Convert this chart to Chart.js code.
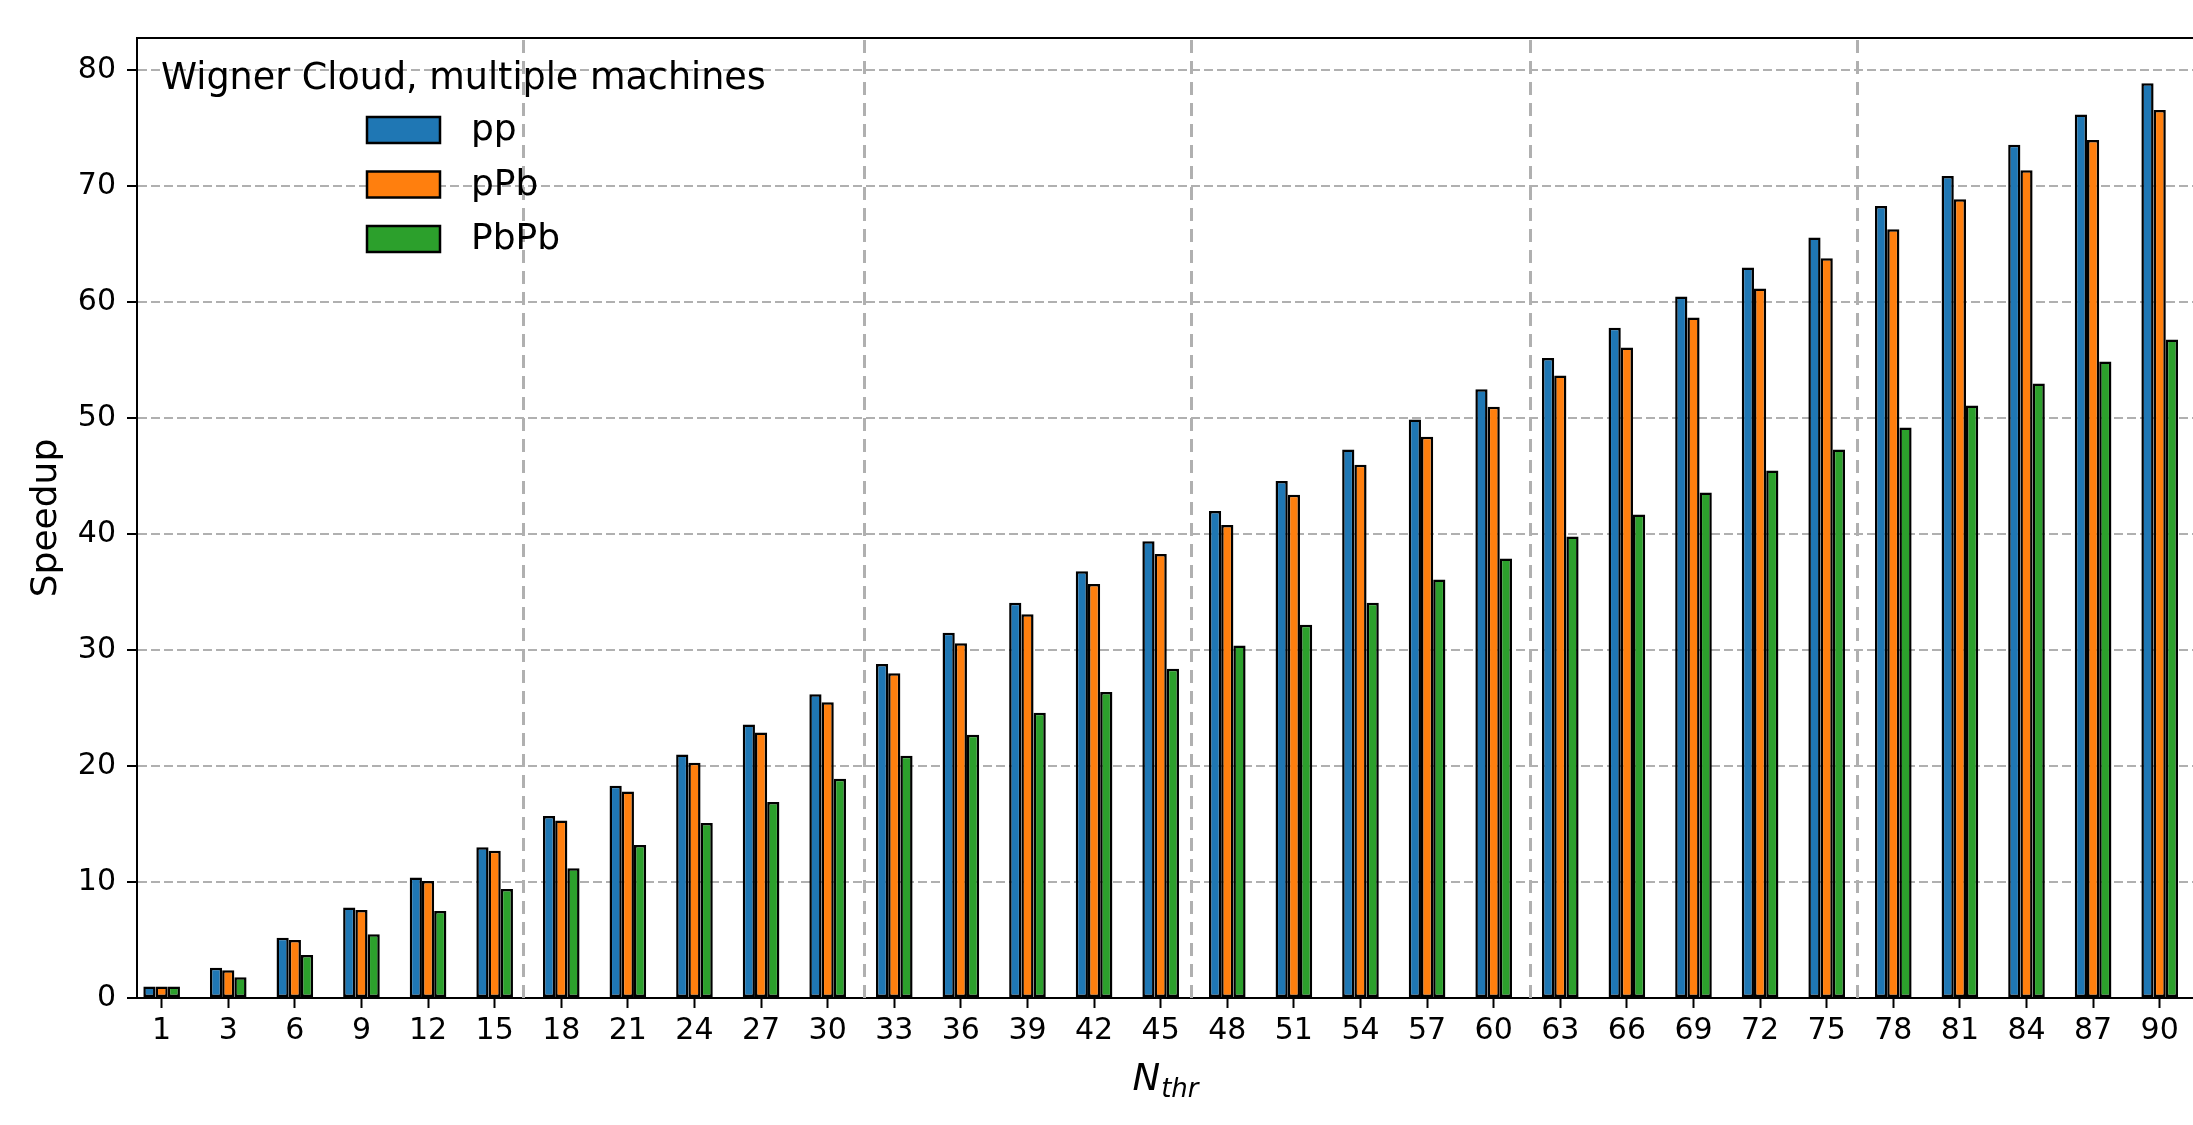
<!DOCTYPE html>
<html>
<head>
<meta charset="utf-8">
<title>Speedup, Wigner Cloud</title>
<script src="https://cdn.jsdelivr.net/npm/chart.js@4"></script>
<style>
  html, body { margin: 0; padding: 0; background: #fff; overflow: hidden; }
  #graph { display: block; }
</style>
</head>
<body>
<canvas id="graph" width="2193" height="1125"></canvas>
<script>
// thread counts on the x axis
const threads = [1, 3, 6, 9, 12, 15, 18, 21, 24, 27, 30, 33, 36, 39, 42, 45,
  48, 51, 54, 57, 60, 63, 66, 69, 72, 75, 78, 81, 84, 87, 90];

// measured speedup per collision system
const ppSpeedup = [1.0, 2.6, 5.2, 7.8, 10.4, 13.0, 15.7, 18.3, 21.0, 23.6, 26.2,
  28.8, 31.5, 34.1, 36.8, 39.4, 42.0, 44.6, 47.3, 49.9, 52.5, 55.2, 57.8, 60.5,
  63.0, 65.6, 68.3, 70.9, 73.6, 76.2, 78.9];
const pPbSpeedup = [1.0, 2.4, 5.0, 7.6, 10.1, 12.7, 15.3, 17.8, 20.3, 22.9, 25.5,
  28.0, 30.6, 33.1, 35.7, 38.3, 40.8, 43.4, 46.0, 48.4, 51.0, 53.7, 56.1, 58.7,
  61.2, 63.8, 66.3, 68.9, 71.4, 74.0, 76.6];
const PbPbSpeedup = [1.0, 1.8, 3.7, 5.5, 7.5, 9.4, 11.2, 13.2, 15.1, 16.9, 18.9,
  20.9, 22.7, 24.6, 26.4, 28.4, 30.4, 32.2, 34.1, 36.1, 37.9, 39.8, 41.7, 43.6,
  45.5, 47.3, 49.2, 51.1, 53.0, 54.9, 56.8];

const yTicks = [0, 10, 20, 30, 40, 50, 60, 70, 80];
// machine boundaries, in bar-group index units
const machineBreaks = [5.43, 10.54, 15.45, 20.54, 25.45];

const legendTitle = "Wigner Cloud, multiple machines";
const FONT = "'DejaVu Sans', 'Liberation Sans', sans-serif";

function toPoints(values) {
  return values.map((v, i) => ({ x: i, y: v }));
}

// dashed vertical lines between machines, under the bars
const machineLines = {
  id: "machineLines",
  beforeDatasetsDraw(chart) {
    const { ctx, chartArea, scales } = chart;
    ctx.save();
    ctx.strokeStyle = "#b0b0b0";
    ctx.lineWidth = 3;
    ctx.setLineDash([13, 8]);
    machineBreaks.forEach((b) => {
      const x = Math.round(scales.x.getPixelForValue(b)) + 0.5;
      ctx.beginPath();
      ctx.moveTo(x, chartArea.bottom);
      ctx.lineTo(x, chartArea.top);
      ctx.stroke();
    });
    ctx.restore();
  },
};

// top frame line, legend block and the N_thr axis label
const decorations = {
  id: "decorations",
  afterDraw(chart) {
    const { ctx, chartArea } = chart;
    ctx.save();

    ctx.strokeStyle = "#000";
    ctx.lineWidth = 2;
    ctx.setLineDash([]);
    ctx.beginPath();
    ctx.moveTo(chartArea.left, chartArea.top);
    ctx.lineTo(chartArea.right, chartArea.top);
    ctx.stroke();

    // legend
    ctx.fillStyle = "#000";
    ctx.textAlign = "left";
    ctx.textBaseline = "alphabetic";
    ctx.font = "36.5px " + FONT;
    ctx.fillText(legendTitle, chartArea.left + 24, chartArea.top + 51);

    ctx.font = "36px " + FONT;
    ctx.textBaseline = "middle";
    chart.data.datasets.forEach((ds, i) => {
      const cy = chartArea.top + 92 + i * 54.5;
      const bx = chartArea.left + 230;
      ctx.fillStyle = ds.backgroundColor;
      ctx.fillRect(bx, cy - 13, 73, 26);
      ctx.strokeStyle = "#000";
      ctx.lineWidth = 2.5;
      ctx.strokeRect(bx, cy - 13, 73, 26);
      ctx.fillStyle = "#000";
      ctx.fillText(ds.label, bx + 104, cy + 1);
    });

    // x axis label: italic N with subscript thr
    const mainFont = "italic 37px " + FONT;
    const subFont = "italic 26px " + FONT;
    ctx.font = mainFont;
    const wN = ctx.measureText("N").width;
    ctx.font = subFont;
    const wSub = ctx.measureText("thr").width;
    const cx = (chartArea.left + chartArea.right) / 2;
    const x0 = cx - (wN + wSub) / 2;
    const base = chartArea.bottom + 92;
    ctx.textBaseline = "alphabetic";
    ctx.font = mainFont;
    ctx.fillText("N", x0, base);
    ctx.font = subFont;
    ctx.fillText("thr", x0 + wN + 1, base + 7);

    ctx.restore();
  },
};

const ctx = document.getElementById("graph").getContext("2d");
new Chart(ctx, {
  type: "bar",
  data: {
    datasets: [
      { label: "pp", data: toPoints(ppSpeedup), backgroundColor: "#1f77b4" },
      { label: "pPb", data: toPoints(pPbSpeedup), backgroundColor: "#ff7f0e" },
      { label: "PbPb", data: toPoints(PbPbSpeedup), backgroundColor: "#2ca02c" },
    ],
  },
  options: {
    responsive: false,
    animation: false,
    devicePixelRatio: 1,
    layout: { padding: { top: 38, right: 0, bottom: 0, left: 0 } },
    datasets: {
      bar: {
        borderColor: "#000",
        borderWidth: 2.5,
        borderSkipped: false,
        categoryPercentage: 0.55,
        barPercentage: 1.0,
      },
    },
    plugins: {
      legend: { display: false },
      tooltip: { enabled: false },
    },
    scales: {
      x: {
        type: "linear",
        offset: false,
        min: -0.37,
        max: 30.5,
        afterBuildTicks: (scale) => {
          scale.ticks = threads.map((t, i) => ({ value: i }));
        },
        afterFit: (scale) => {
          scale.height = 127;
        },
        ticks: {
          autoSkip: false,
          maxRotation: 0,
          padding: 5,
          color: "#000",
          font: { family: FONT, size: 30 },
          callback: (value) => threads[value],
        },
        grid: {
          offset: false,
          drawOnChartArea: false,
          drawTicks: true,
          tickLength: 10,
          tickColor: "#000",
          tickWidth: 2,
        },
        border: { display: true, color: "#000", width: 2 },
      },
      y: {
        min: 0,
        max: 82.8,
        afterBuildTicks: (scale) => {
          scale.ticks = yTicks.map((v) => ({ value: v }));
        },
        afterFit: (scale) => {
          scale.width = 137;
        },
        ticks: {
          padding: 11,
          color: "#000",
          font: { family: FONT, size: 30 },
        },
        grid: {
          color: "#b0b0b0",
          lineWidth: 2,
          tickLength: 10,
          tickColor: "#000",
          tickWidth: 2,
          tickBorderDash: [],
        },
        border: { display: true, color: "#000", width: 2, dash: [9, 4] },
        title: {
          display: true,
          text: "Speedup",
          color: "#000",
          font: { family: FONT, size: 36 },
          padding: { top: 25, bottom: 0 },
        },
      },
    },
  },
  plugins: [machineLines, decorations],
});
</script>
</body>
</html>
